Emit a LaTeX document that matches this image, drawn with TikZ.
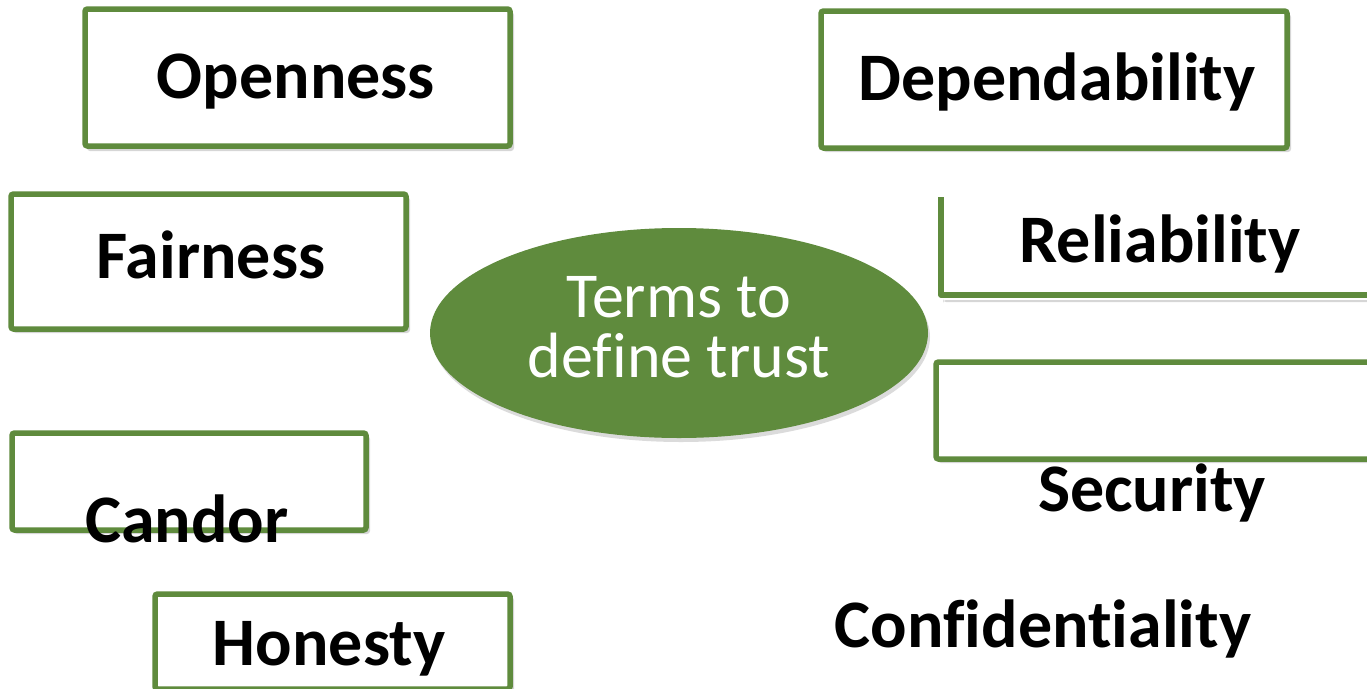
\documentclass[tikz,border=0pt]{standalone}
\usepackage{fontspec}
\setmainfont{Carlito}[Ligatures=NoCommon]
\usetikzlibrary{shapes.geometric}
\definecolor{leafgreen}{RGB}{95,139,61}
\begin{document}
\begin{tikzpicture}[x=1pt,y=-1pt,
  termbox/.style={draw=leafgreen, line width=5.5pt, fill=white, rounded corners=2.5pt},
  openbox/.style={draw=leafgreen, line width=5.5pt, line join=round},
  boxshadow/.style={fill=black, opacity=0.16, rounded corners=3pt},
  term/.style={font=\bfseries\fontsize{68}{82}\selectfont, text=black, anchor=base, inner sep=0pt},
  hub/.style={ellipse, fill=leafgreen, minimum width=498pt, minimum height=210pt, inner sep=0pt},
  hubtext/.style={font=\fontsize{64}{60}\selectfont, text=white, anchor=base, inner sep=0pt}]
\useasboundingbox (0,0) rectangle (1367,688);
\clip (0,0) rectangle (1367,688);

% soft shadows below the frames
\fill[boxshadow] (87,12) rectangle (514,151);
\fill[boxshadow] (823,14) rectangle (1291,152);
\fill[boxshadow] (13,197) rectangle (410,333);
\fill[boxshadow] (943,300) rectangle (1380,302);
\fill[boxshadow] (938,365) rectangle (1380,463);
\fill[boxshadow] (14,436) rectangle (370,534);
\fill[boxshadow] (157,597) rectangle (514,700);
\fill[black, opacity=0.14] (681,337) ellipse [x radius=249, y radius=105];

% framed terms
\draw[termbox] (85,9) rectangle (510,146);
\draw[termbox] (821,11) rectangle (1287,148);
\draw[termbox] (11,194) rectangle (406,329);
\fill[white] (941,197) rectangle (1380,295);
\draw[openbox] (941,197) -- (941,295) -- (1380,295);
\draw[termbox] (936,362) rectangle (1380,459);
\draw[termbox] (12,433) rectangle (366,530);
\draw[termbox] (155,594) rectangle (510,689);

% central ellipse
\node[hub] (hub) at (679,333) {};
\node[hubtext] (hubtop) at (679,317) {Terms to};
\node[hubtext] (hubbottom) at (679,377) {define trust};

% term labels
\node[term] (openness) at (296,98) {Openness};
\node[term] (dependability) at (1057,100) {Dependability};
\node[term] (fairness) at (211,278) {Fairness};
\node[term] (reliability) at (1160,262) {Reliability};
\node[term] (candor) at (187,542) {Candor};
\node[term] (honesty) at (329,665) {Honesty};
\node[term] (security) at (1152,511) {Security};
\node[term] (confidentiality) at (1043,647) {Confidentiality};
\end{tikzpicture}
\end{document}
